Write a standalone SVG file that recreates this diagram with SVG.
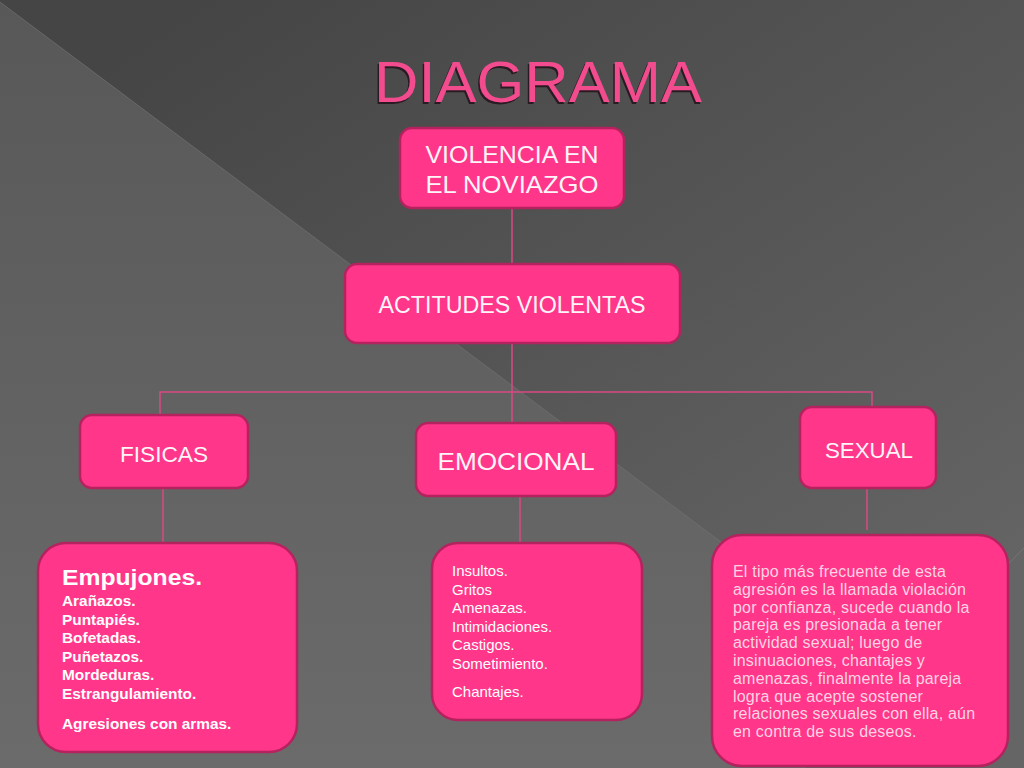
<svg xmlns="http://www.w3.org/2000/svg" width="1024" height="768" viewBox="0 0 1024 768">
<defs>
<linearGradient id="bgTop" x1="0.2" y1="0" x2="1" y2="0.9">
<stop offset="0" stop-color="#454545"/>
<stop offset="1" stop-color="#686868"/>
</linearGradient>
<linearGradient id="bgLow" x1="0" y1="0" x2="0" y2="1">
<stop offset="0" stop-color="#585858"/>
<stop offset="1" stop-color="#6b6b6b"/>
</linearGradient>
<style>
.box{fill:#ff3689;stroke:#b5235f;stroke-width:2.5}
.lbl{font-family:"Liberation Sans",Arial,sans-serif;fill:#fff4f8;text-anchor:middle}
.conn{stroke:#d94a85;stroke-width:1.5;fill:none}
.list{font-family:"Liberation Sans",Arial,sans-serif;fill:#ffffff}
.para{font-family:"Liberation Sans",Arial,sans-serif;fill:#ffd3e3;font-size:16px;letter-spacing:0.2px}
</style>
</defs>
<rect x="0" y="0" width="1024" height="768" fill="url(#bgTop)"/>
<polygon points="0,2 1024,769 0,768" fill="url(#bgLow)"/>
<line x1="0" y1="2" x2="1024" y2="769" stroke="#767676" stroke-width="1" opacity="0.6"/>
<polygon points="1024,548 1024,768 804,768" fill="#656565"/>
<line x1="1024" y1="548" x2="804" y2="768" stroke="#7e7e7e" stroke-width="1" opacity="0.6"/>

<text x="538" y="102" font-family="Liberation Sans, Arial, sans-serif" font-size="57" fill="#2a1a22" textLength="328" lengthAdjust="spacingAndGlyphs" text-anchor="middle" transform="translate(-1.5,1.5)">DIAGRAMA</text>
<text x="538" y="102" font-family="Liberation Sans, Arial, sans-serif" font-size="57" fill="#f24b8e" textLength="328" lengthAdjust="spacingAndGlyphs" text-anchor="middle">DIAGRAMA</text>

<g id="connectors">
<line class="conn" x1="512" y1="208" x2="512" y2="264"/>
<line class="conn" x1="512" y1="343" x2="512" y2="423"/>
<polyline class="conn" points="160,415 160,392 872,392 872,408"/>
<line class="conn" x1="163" y1="488" x2="163" y2="544"/>
<line class="conn" x1="520" y1="496" x2="520" y2="543"/>
<line class="conn" x1="867" y1="488" x2="867" y2="530"/>
</g>

<g id="node-violencia">
<rect class="box" x="400" y="128" width="224" height="80" rx="12"/>
<text class="lbl" x="512" y="163" font-size="24" textLength="173" lengthAdjust="spacingAndGlyphs">VIOLENCIA EN</text>
<text class="lbl" x="512" y="193" font-size="24" textLength="173" lengthAdjust="spacingAndGlyphs">EL NOVIAZGO</text>
</g>

<g id="node-actitudes">
<rect class="box" x="345" y="264" width="335" height="79" rx="12"/>
<text class="lbl" x="512" y="313" font-size="23" textLength="267" lengthAdjust="spacingAndGlyphs">ACTITUDES VIOLENTAS</text>
</g>

<g id="node-fisicas">
<rect class="box" x="80" y="415" width="168" height="73" rx="12"/>
<text class="lbl" x="164" y="462" font-size="22" textLength="88" lengthAdjust="spacingAndGlyphs">FISICAS</text>
</g>

<g id="node-emocional">
<rect class="box" x="416" y="423" width="200" height="73" rx="12"/>
<text class="lbl" x="516" y="470" font-size="23" textLength="157" lengthAdjust="spacingAndGlyphs">EMOCIONAL</text>
</g>

<g id="node-sexual">
<rect class="box" x="800" y="407" width="136" height="81" rx="12"/>
<text class="lbl" x="869" y="458" font-size="22" textLength="88" lengthAdjust="spacingAndGlyphs">SEXUAL</text>
</g>

<g id="node-fisicas-detalle">
<rect class="box" x="38" y="543" width="259" height="209" rx="28"/>
<text class="list" x="62" y="585" font-size="22" font-weight="bold" textLength="140" lengthAdjust="spacingAndGlyphs">Empujones.</text>
<g class="list" font-size="15.4" font-weight="bold">
<text x="62" y="606">Arañazos.</text>
<text x="62" y="624.6">Puntapiés.</text>
<text x="62" y="643.2">Bofetadas.</text>
<text x="62" y="661.8">Puñetazos.</text>
<text x="62" y="680.4">Mordeduras.</text>
<text x="62" y="699">Estrangulamiento.</text>
<text x="62" y="729">Agresiones con armas.</text>
</g>
</g>

<g id="node-emocional-detalle">
<rect class="box" x="432" y="543" width="210" height="177" rx="26"/>
<g class="list" font-size="15">
<text x="452" y="576">Insultos.</text>
<text x="452" y="594.5">Gritos</text>
<text x="452" y="613">Amenazas.</text>
<text x="452" y="631.5">Intimidaciones.</text>
<text x="452" y="650">Castigos.</text>
<text x="452" y="668.5">Sometimiento.</text>
<text x="452" y="697">Chantajes.</text>
</g>
</g>

<g id="node-sexual-detalle">
<rect class="box" x="712" y="535" width="296" height="231" rx="30"/>
<g class="para">
<text x="733" y="577">El tipo más frecuente de esta</text>
<text x="733" y="594.8">agresión es la llamada violación</text>
<text x="733" y="612.6">por confianza, sucede cuando la</text>
<text x="733" y="630.4">pareja es presionada a tener</text>
<text x="733" y="648.2">actividad sexual; luego de</text>
<text x="733" y="666">insinuaciones, chantajes y</text>
<text x="733" y="683.8">amenazas, finalmente la pareja</text>
<text x="733" y="701.6">logra que acepte sostener</text>
<text x="733" y="719.4">relaciones sexuales con ella, aún</text>
<text x="733" y="737.2">en contra de sus deseos.</text>
</g>
</g>
</svg>
